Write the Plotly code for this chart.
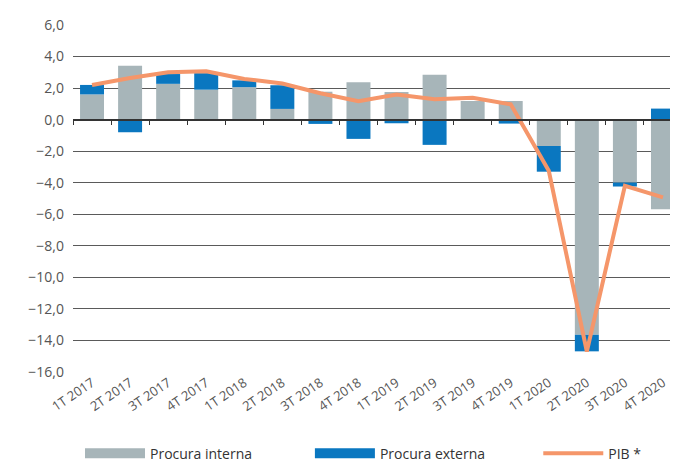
import plotly.graph_objects as go

trimestres = ["1T 2017", "2T 2017", "3T 2017", "4T 2017", "1T 2018", "2T 2018", "3T 2018", "4T 2018",
              "1T 2019", "2T 2019", "3T 2019", "4T 2019", "1T 2020", "2T 2020", "3T 2020", "4T 2020"]
procura_interna = [1.6, 3.42, 2.27, 1.9, 2.06, 0.68, 1.77, 2.37,
                   1.75, 2.85, 1.18, 1.18, -1.67, -13.64, -3.99, -5.68]
procura_externa = [0.6, -0.8, 0.62, 1.05, 0.43, 1.5, -0.27, -1.22,
                   -0.23, -1.6, 0.0, -0.25, -1.63, -1.05, -0.25, 0.7]
pib = [2.2, 2.64, 3.0, 3.07, 2.58, 2.29, 1.67, 1.17,
       1.59, 1.3, 1.38, 0.97, -3.24, -14.7, -4.19, -4.93]

CINZA = "#A7B5B9"
AZUL = "#0A77C0"
LARANJA = "#F5966A"
Y_MIN, Y_MAX = -16, 6

fig = go.Figure()

# barras empilhadas (positivos para cima, negativos para baixo)
fig.add_trace(go.Bar(x=trimestres, y=procura_interna, marker=dict(color=CINZA, line=dict(width=0)),
                     name="Procura interna", showlegend=False))
fig.add_trace(go.Bar(x=trimestres, y=procura_externa, marker=dict(color=AZUL, line=dict(width=0)),
                     name="Procura externa", showlegend=False))
fig.add_trace(go.Scatter(x=trimestres, y=pib, mode="lines", line=dict(color=LARANJA, width=4),
                         name="PIB *", showlegend=False, xaxis="x2"))

# legenda: uma por entrada, para controlar a posição de cada uma
entradas = [("Procura interna", CINZA, 10, "legend", 0.0115),
            ("Procura externa", AZUL, 10, "legend2", 0.389),
            ("PIB *", LARANJA, 4, "legend3", 0.764)]
for nome, cor, larg, leg, _ in entradas:
    fig.add_trace(go.Scatter(x=[None], y=[None], mode="lines", line=dict(color=cor, width=larg),
                             name=nome, legend=leg))

leg_base = dict(orientation="h", xanchor="left", y=-0.235, yanchor="middle",
                font=dict(size=14, color="#333333"), itemwidth=60, bgcolor="rgba(0,0,0,0)")

fig.update_layout(
    width=678, height=466,
    margin=dict(l=65, r=4, t=17, b=91),
    paper_bgcolor="white", plot_bgcolor="white",
    barmode="relative", bargap=0.37,
    separators=",.",
    font=dict(family="Open Sans", size=13, color="#555555"),
    legend=dict(leg_base, x=entradas[0][4]),
    legend2=dict(leg_base, x=entradas[1][4]),
    legend3=dict(leg_base, x=entradas[2][4]),
    xaxis=dict(type="category", categoryarray=trimestres, range=[-0.5, 15.5], showgrid=False,
               tickangle=-34, ticks="", showline=False, zeroline=False, automargin=False,
               tickfont=dict(size=13)),
    xaxis2=dict(type="category", categoryarray=trimestres, range=[-0.5, 15.5], overlaying="x",
                anchor="free", position=(0 - Y_MIN) / (Y_MAX - Y_MIN), side="bottom",
                showticklabels=False, showgrid=False, ticks="outside", ticklen=5, tickcolor="#333333",
                tickwidth=1.2, tickson="boundaries", showline=True, linecolor="#333333", linewidth=1.5),
    yaxis=dict(range=[Y_MIN, Y_MAX], dtick=2, tickformat=".1f", showgrid=True, gridcolor="#5a5a5a",
               gridwidth=1, zeroline=False, ticks="", ticklabelstandoff=8, automargin=False,
               tickfont=dict(size=14)),
)

fig.write_html("out.html")
